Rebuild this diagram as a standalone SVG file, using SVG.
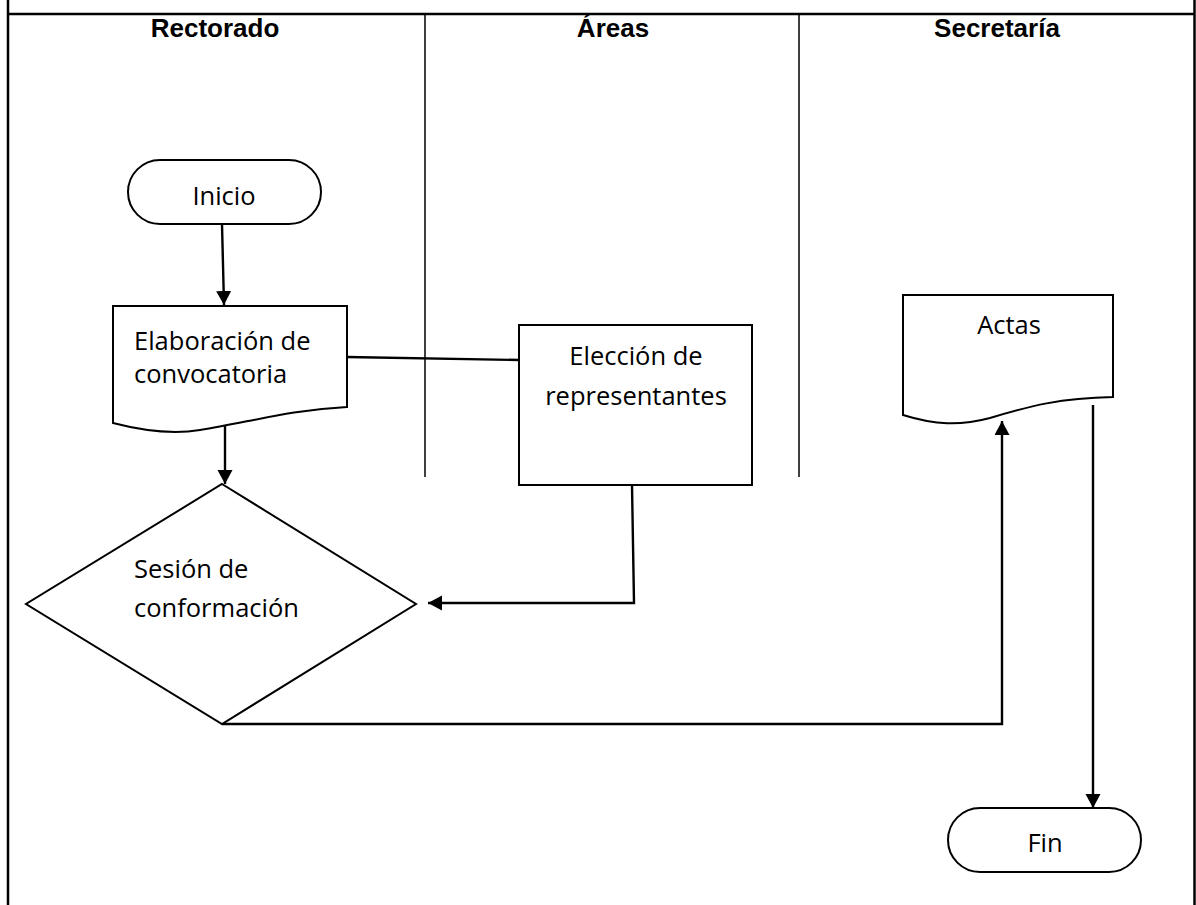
<svg xmlns="http://www.w3.org/2000/svg" width="1196" height="905" viewBox="0 0 1196 905">
<style>
.frame{stroke:#000;stroke-width:2.5;fill:none}
.lane{stroke:#000;stroke-width:1.5;fill:none}
.shape{stroke:#000;stroke-width:2;fill:#fff}
.conn{stroke:#000;stroke-width:2.4;fill:none}
.hdr{font-family:"Liberation Sans",Arial,sans-serif;font-weight:bold;font-size:26px;fill:#000}
.txt{font-family:"Open Sans","Liberation Sans",sans-serif;font-size:25.5px;fill:#000}
</style>
<defs>
<marker id="arr" markerUnits="userSpaceOnUse" markerWidth="16" markerHeight="16" refX="14" refY="7.5" orient="auto">
<path d="M0,0 L14,7.5 L0,15 z" fill="#000"/>
</marker>
</defs>
<rect width="1196" height="905" fill="#fff"/>
<g id="frame">
<line class="frame" x1="8" y1="0" x2="8" y2="905"/>
<line class="frame" x1="1194.5" y1="0" x2="1194.5" y2="905"/>
<line class="frame" x1="8" y1="14" x2="1194.5" y2="14"/>
<line class="lane" x1="425" y1="14" x2="425" y2="477"/>
<line class="lane" x1="799" y1="14" x2="799" y2="477"/>
<text class="hdr" x="215" y="37" text-anchor="middle">Rectorado</text>
<text class="hdr" x="613" y="37" text-anchor="middle">Áreas</text>
<text class="hdr" x="997" y="37" text-anchor="middle">Secretaría</text>
</g>
<g id="connectors">
<line class="conn" x1="222" y1="224" x2="224" y2="305" marker-end="url(#arr)"/>
<line class="conn" x1="347" y1="357" x2="519" y2="360"/>
<line class="conn" x1="225" y1="426" x2="225" y2="484" marker-end="url(#arr)"/>
<polyline class="conn" points="632,485 634,603 428,603" marker-end="url(#arr)"/>
<polyline class="conn" points="222,724 1002,724 1002,421" marker-end="url(#arr)"/>
<line class="conn" x1="1093" y1="405" x2="1093" y2="808" marker-end="url(#arr)"/>
</g>
<g id="inicio">
<rect class="shape" x="128" y="160" width="193" height="64" rx="32" ry="32"/>
<text class="txt" x="224" y="205" text-anchor="middle">Inicio</text>
</g>
<g id="elaboracion">
<path class="shape" d="M113,306 L347,306 L347,407 C290,410 250,422 200,430 C170,435 140,430 113,423 Z"/>
<text class="txt" x="134" y="350">Elaboración de</text>
<text class="txt" x="134" y="383">convocatoria</text>
</g>
<g id="eleccion">
<rect class="shape" x="519" y="325" width="233" height="160"/>
<text class="txt" x="636" y="365" text-anchor="middle">Elección de</text>
<text class="txt" x="636" y="405" text-anchor="middle">representantes</text>
</g>
<g id="sesion">
<polygon class="shape" points="222,484 416,604 222,724 26,604"/>
<text class="txt" x="134" y="578">Sesión de</text>
<text class="txt" x="134" y="617">conformación</text>
</g>
<g id="actas">
<path class="shape" d="M903,295 L1113,295 L1113,397 C1060,398 1030,406 990,418 C960,426 935,425 903,415 Z"/>
<text class="txt" x="1009" y="334" text-anchor="middle">Actas</text>
</g>
<g id="fin">
<rect class="shape" x="948" y="808" width="193" height="64" rx="32" ry="32"/>
<text class="txt" x="1045" y="852" text-anchor="middle">Fin</text>
</g>
</svg>
